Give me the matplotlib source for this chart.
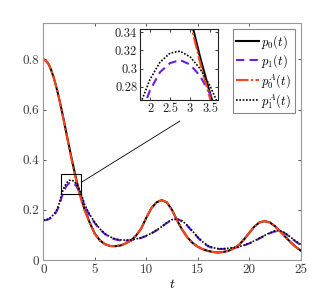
import matplotlib
matplotlib.use("Agg")
import matplotlib.pyplot as plt
from matplotlib.patches import Rectangle

plt.rcParams["font.family"] = "serif"
plt.rcParams["font.serif"] = ["cmr10"]
plt.rcParams["mathtext.fontset"] = "cm"
plt.rcParams["axes.formatter.use_mathtext"] = True

# time grid (finer near the zoomed peak)
t = [0, 0.25, 0.5, 0.75, 1, 1.25, 1.5, 1.75, 2, 2.25, 2.5, 2.75, 3, 3.25, 3.5, 3.75, 4,
     4.5, 5, 5.5, 6, 6.5, 7, 7.5, 8, 8.5, 9, 9.5, 10, 10.5, 11, 11.5, 12, 12.5, 13,
     13.5, 14, 14.5, 15, 15.5, 16, 16.5, 17, 17.5, 18, 18.5, 19, 19.5, 20, 20.5, 21,
     21.5, 22, 22.5, 23, 23.5, 24, 24.5, 25]

p0 = [0.800, 0.795, 0.782, 0.759, 0.729, 0.692, 0.650, 0.604, 0.555, 0.504, 0.454, 0.405,
      0.358, 0.313, 0.273, 0.236, 0.203,
      0.150, 0.105, 0.078, 0.063, 0.056, 0.055, 0.058, 0.066, 0.077, 0.097, 0.125, 0.168,
      0.207, 0.230, 0.239, 0.230, 0.200, 0.158, 0.120, 0.090, 0.068, 0.053, 0.043, 0.036,
      0.032, 0.030, 0.032, 0.037, 0.046, 0.060, 0.082, 0.108, 0.133, 0.150, 0.155, 0.150,
      0.135, 0.115, 0.093, 0.072, 0.053, 0.038]

p1 = [0.158, 0.159, 0.162, 0.168, 0.177, 0.191, 0.212, 0.246, 0.276, 0.296, 0.306, 0.3094,
      0.3045, 0.292, 0.272, 0.248, 0.215,
      0.178, 0.147, 0.122, 0.103, 0.090, 0.082, 0.078, 0.077, 0.079, 0.083, 0.088, 0.096,
      0.106, 0.118, 0.132, 0.148, 0.160, 0.163, 0.154, 0.136, 0.113, 0.090, 0.070, 0.055,
      0.047, 0.044, 0.044, 0.046, 0.048, 0.052, 0.058, 0.066, 0.075, 0.086, 0.097, 0.107,
      0.114, 0.115, 0.106, 0.090, 0.074, 0.060]

p0A = [0.800, 0.795, 0.782, 0.759, 0.729, 0.692, 0.649, 0.602, 0.552, 0.500, 0.449, 0.399,
       0.352, 0.307, 0.267, 0.231, 0.199,
       0.148, 0.104, 0.078, 0.063, 0.056, 0.055, 0.058, 0.066, 0.077, 0.097, 0.125, 0.168,
       0.207, 0.230, 0.239, 0.230, 0.200, 0.158, 0.120, 0.090, 0.068, 0.053, 0.043, 0.036,
       0.032, 0.030, 0.032, 0.037, 0.046, 0.060, 0.082, 0.108, 0.133, 0.150, 0.155, 0.150,
       0.135, 0.115, 0.093, 0.072, 0.053, 0.038]

p1A = [0.159, 0.160, 0.164, 0.171, 0.181, 0.196, 0.220, 0.260, 0.288, 0.307, 0.317, 0.3192,
       0.313, 0.300, 0.281, 0.256, 0.222,
       0.182, 0.150, 0.124, 0.105, 0.092, 0.084, 0.080, 0.079, 0.080, 0.084, 0.089, 0.097,
       0.107, 0.119, 0.133, 0.149, 0.161, 0.164, 0.156, 0.138, 0.115, 0.092, 0.072, 0.057,
       0.049, 0.045, 0.045, 0.047, 0.049, 0.053, 0.059, 0.067, 0.076, 0.087, 0.098, 0.108,
       0.116, 0.117, 0.108, 0.092, 0.076, 0.062]

labels = [r"$p_0(t)$", r"$p_1(t)$", r"$p_0^A(t)$", r"$p_1^A(t)$"]

xticks = [0, 5, 10, 15, 20, 25]
xticklabels = ["0", "5", "10", "15", "20", "25"]
yticks = [0, 0.2, 0.4, 0.6, 0.8]
yticklabels = ["0", "0.2", "0.4", "0.6", "0.8"]
in_xticks = [2, 2.5, 3, 3.5]
in_xticklabels = ["2", "2.5", "3", "3.5"]
in_yticks = [0.28, 0.30, 0.32, 0.34]
in_yticklabels = ["0.28", "0.3", "0.32", "0.34"]

red = "#ff4419"
purple = "#6a1ee6"


def draw(ax, lw=1.5):
    h = []
    h += ax.plot(t, p0, color="black", lw=lw, ls="-")
    h += ax.plot(t, p1, color=purple, lw=lw, ls=(0, (4, 2.5)))
    h += ax.plot(t, p0A, color=red, lw=lw, ls=(0, (6, 1.2, 1, 1.2)))
    h += ax.plot(t, p1A, color="black", lw=lw * 0.8, ls=(0, (1, 1)))
    return h


fig = plt.figure(figsize=(3.32, 2.99), dpi=100)
ax = fig.add_axes([0.1305, 0.1304, 0.775, 0.7926])
handles = draw(ax)
ax.set_xlim(0, 25)
ax.set_ylim(0, 0.945)
ax.set_xticks(xticks)
ax.set_xticklabels(xticklabels)
ax.set_yticks(yticks)
ax.set_yticklabels(yticklabels)
ax.set_xlabel(r"$t$", fontsize=10, labelpad=1)
ax.tick_params(direction="in", top=True, right=True, length=2.5, width=0.6,
               labelsize=9.5, colors="#3a3a3a", pad=3)
for s in ax.spines.values():
    s.set_color("#999999")
    s.set_linewidth(0.8)

# zoom box and connector
ax.add_patch(Rectangle((1.75, 0.265), 1.95, 0.079, fill=False, ec="black", lw=0.8, zorder=5))
ax.plot([3.7, 13.27], [0.31, 0.554], color="black", lw=0.6)

leg = fig.legend(handles, labels, loc="upper right", bbox_to_anchor=(0.889, 0.903),
                 borderaxespad=0, fontsize=9, handlelength=1.8, handletextpad=0.2,
                 borderpad=0.3, labelspacing=0.15, fancybox=False, framealpha=1)
leg.get_frame().set_edgecolor("#888888")
leg.get_frame().set_linewidth(0.8)

ins = fig.add_axes([0.4217, 0.6656, 0.2349, 0.2375])
draw(ins)
ins.set_xlim(1.75, 3.7)
ins.set_ylim(0.2653, 0.3437)
ins.set_xticks(in_xticks)
ins.set_xticklabels(in_xticklabels)
ins.set_yticks(in_yticks)
ins.set_yticklabels(in_yticklabels)
ins.tick_params(direction="in", top=True, right=True, length=2, width=0.6,
                labelsize=9, colors="#222222", pad=2)
for s in ins.spines.values():
    s.set_color("#222222")
    s.set_linewidth(0.8)

fig.savefig("out.png", dpi=100)
